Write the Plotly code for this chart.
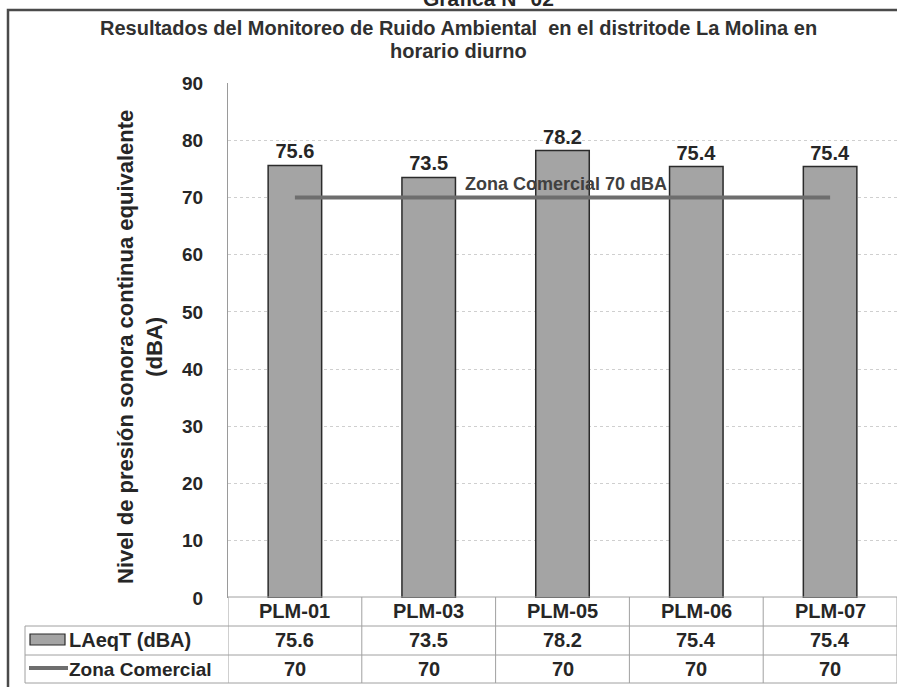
import plotly.graph_objects as go

categories = ["PLM-01", "PLM-03", "PLM-05", "PLM-06", "PLM-07"]
laeq_values = [75.6, 73.5, 78.2, 75.4, 75.4]
zona_values = [70, 70, 70, 70, 70]
y_ticks = [0, 10, 20, 30, 40, 50, 60, 70, 80, 90]

W, H = 897, 687
L, R, T, B = 228, 0, 83, 89
PW = W - L - R
PH = H - T - B


def px(x):
    return (x - L) / PW


def py(y):
    return (H - B - y) / PH


FONT = "Liberation Sans, Arial, sans-serif"
TXT = "#262626"
GRID = "#a0a0a0"

fig = go.Figure()
fig.add_trace(go.Bar(
    x=categories, y=laeq_values, width=0.40,
    marker=dict(color="#a4a4a4", line=dict(color="#2b2b2b", width=1.5)),
    text=[f"{v:.1f}" for v in laeq_values], textposition="outside",
    textfont=dict(family=FONT, size=20, color=TXT),
    cliponaxis=False, showlegend=False, hoverinfo="skip",
))
fig.add_trace(go.Scatter(
    x=categories, y=zona_values, mode="lines",
    line=dict(color="#6e6e6e", width=4), showlegend=False, hoverinfo="skip",
))

shapes = []
annotations = []

# outer frame
shapes.append(dict(type="rect", xref="paper", yref="paper",
                   x0=px(8), x1=px(905), y0=py(700), y1=py(10),
                   line=dict(color="#4a4a4a", width=2.5), layer="above"))

# table lines
row_lines = [(597, L), (626, 25), (655, 25), (683, 25)]
for yy, x0 in row_lines:
    shapes.append(dict(type="line", xref="paper", yref="paper",
                       x0=px(x0), x1=px(897), y0=py(yy), y1=py(yy),
                       line=dict(color=GRID, width=1)))
shapes.append(dict(type="line", xref="paper", yref="paper",
                   x0=px(25), x1=px(25), y0=py(626), y1=py(683),
                   line=dict(color=GRID, width=1)))
for k in range(len(categories) + 1):
    shapes.append(dict(type="line", xref="x", yref="paper",
                       x0=k - 0.5, x1=k - 0.5, y0=py(597), y1=py(683),
                       line=dict(color=GRID, width=1)))

# legend keys in the table
shapes.append(dict(type="rect", xref="paper", yref="paper",
                   x0=px(30), x1=px(65), y0=py(645), y1=py(634),
                   fillcolor="#a4a4a4", line=dict(color="#2b2b2b", width=1.2)))
shapes.append(dict(type="line", xref="paper", yref="paper",
                   x0=px(29), x1=px(68), y0=py(668), y1=py(668),
                   line=dict(color="#6e6e6e", width=4)))

annotations.append(dict(text="LAeqT (dBA)", xref="paper", yref="paper",
                        x=px(67), y=py(640), xanchor="left", yanchor="middle",
                        showarrow=False, font=dict(family=FONT, size=20, color=TXT)))
annotations.append(dict(text="Zona Comercial", xref="paper", yref="paper",
                        x=px(67), y=py(669), xanchor="left", yanchor="middle",
                        showarrow=False, font=dict(family=FONT, size=19, color=TXT)))

for i, c in enumerate(categories):
    annotations.append(dict(text=c, xref="x", yref="paper", x=i, y=py(611),
                            xanchor="center", yanchor="middle", showarrow=False,
                            font=dict(family=FONT, size=20, color=TXT)))
    annotations.append(dict(text=f"{laeq_values[i]:.1f}", xref="x", yref="paper", x=i, y=py(640),
                            xanchor="center", yanchor="middle", showarrow=False,
                            font=dict(family=FONT, size=20, color=TXT)))
    annotations.append(dict(text=f"{zona_values[i]}", xref="x", yref="paper", x=i, y=py(669),
                            xanchor="center", yanchor="middle", showarrow=False,
                            font=dict(family=FONT, size=20, color=TXT)))

# zone label
annotations.append(dict(text="Zona Comercial 70 dBA", xref="x", yref="y", x=2, y=70,
                        xshift=3, yshift=13, xanchor="center", yanchor="middle",
                        showarrow=False, font=dict(family=FONT, size=18, color="#404040")))

# titles
annotations.append(dict(text="Gráfica N° 02", xref="paper", yref="paper",
                        x=px(488), y=py(12), xanchor="center", yanchor="bottom",
                        showarrow=False, font=dict(family=FONT, size=21, color=TXT)))
annotations.append(dict(text="Resultados del Monitoreo de Ruido Ambiental  en el distritode La Molina en",
                        xref="paper", yref="paper", x=px(458), y=py(28),
                        xanchor="center", yanchor="middle", showarrow=False,
                        font=dict(family=FONT, size=20, color="#303030")))
annotations.append(dict(text="horario diurno", xref="paper", yref="paper", x=px(458), y=py(51),
                        xanchor="center", yanchor="middle", showarrow=False,
                        font=dict(family=FONT, size=20, color="#303030")))
annotations.append(dict(text="Nivel de presión sonora continua equivalente<br>(dBA)",
                        xref="paper", yref="paper", x=px(140), y=py(347),
                        xanchor="center", yanchor="middle", textangle=-90, showarrow=False,
                        font=dict(family=FONT, size=22, color=TXT)))

fig.update_layout(
    width=W, height=H,
    margin=dict(l=L, r=R, t=T, b=B),
    paper_bgcolor="white", plot_bgcolor="white",
    font=dict(family=FONT, color=TXT),
    shapes=shapes, annotations=annotations,
    hovermode=False,
    xaxis=dict(type="category", range=[-0.5, 4.5], showticklabels=False,
               showline=False, showgrid=False, zeroline=False, ticks=""),
    yaxis=dict(range=[0, 90], tickvals=y_ticks, showgrid=True,
               gridcolor="#cfcfcf", griddash="dot", gridwidth=1,
               showline=True, linecolor="#9a9a9a", linewidth=1,
               zeroline=False, ticks="", ticklabelstandoff=20,
               tickfont=dict(family=FONT, size=19, color=TXT)),
)
fig.layout.font.weight = "bold"
for a in fig.layout.annotations:
    a.font.weight = "bold"
fig.layout.yaxis.tickfont.weight = "bold"
fig.data[0].textfont.weight = "bold"

fig.write_html("out.html", config={"displayModeBar": False},
               post_script="document.body.style.margin='0';document.body.style.overflow='hidden';")
